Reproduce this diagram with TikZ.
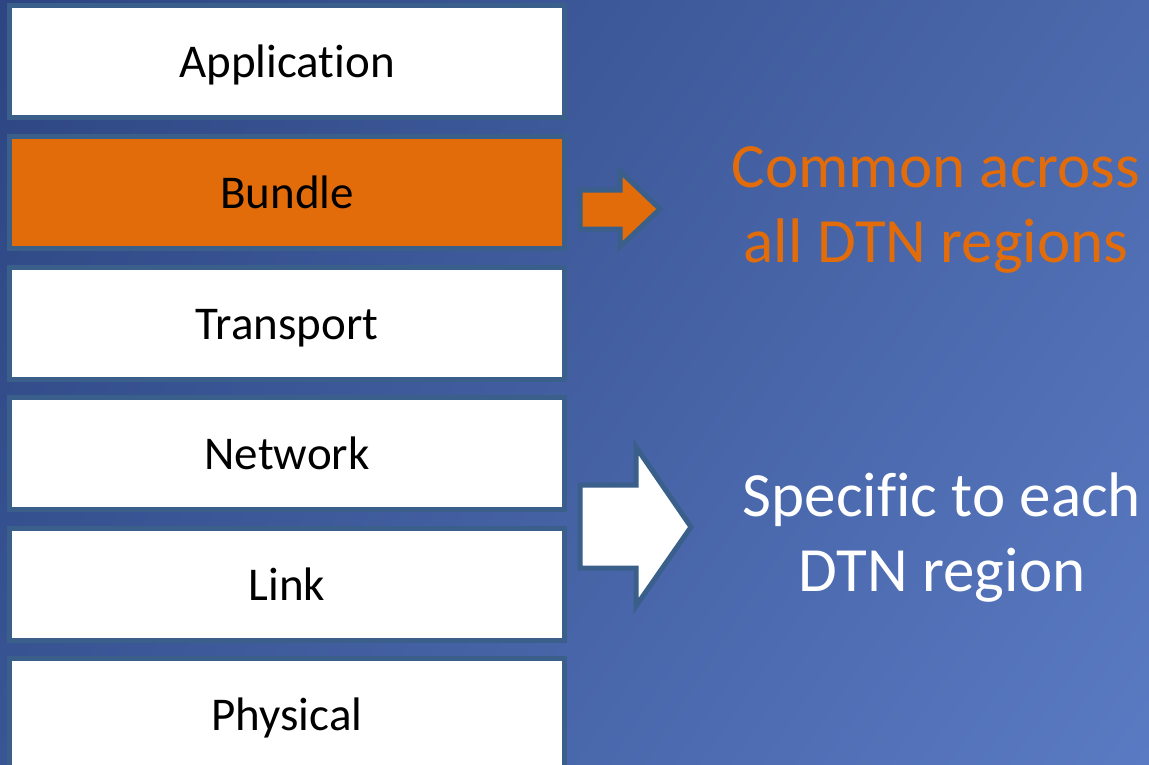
\documentclass[tikz,border=0pt]{standalone}
\usepackage{fontspec}
\setmainfont{Carlito}[Ligatures={NoCommon, NoContextual, NoRare}]
\usetikzlibrary{positioning, shadings}

\definecolor{bgtopleft}{HTML}{2D4582}
\definecolor{bgtopright}{HTML}{4B69AC}
\definecolor{bgbotleft}{HTML}{395594}
\definecolor{bgbotright}{HTML}{5A7AC3}
\definecolor{layerborder}{HTML}{3A5F8B}
\definecolor{bundleorange}{HTML}{E36C0A}

\begin{document}
\begin{tikzpicture}[
    x=1pt, y=-1pt,
    layer/.style={rectangle, draw=layerborder, line width=5pt, fill=white,
                  minimum width=555pt, minimum height=112pt,
                  text height=36pt, text depth=4pt,
                  font=\fontsize{47}{56}\selectfont},
    blockarrow/.style={draw=layerborder, line width=5pt, line join=miter},
    note/.style={align=center, font=\fontsize{63}{75}\selectfont}
]

    % Background
    \useasboundingbox (0, 0) rectangle (1149, 765);
    \shade[upper left=bgtopleft, upper right=bgtopright,
           lower left=bgbotleft, lower right=bgbotright] (0, 0) rectangle (1149, 765);

    % Protocol layers
    \node[layer] (application) at (287, 61.5) {Application};
    \node[layer, fill=bundleorange] (bundle) at (287, 192.5) {Bundle};
    \node[layer] (transport) at (287, 323) {Transport};
    \node[layer] (network) at (287, 453.5) {Network};
    \node[layer] (link) at (287, 584) {Link};
    \node[layer] (physical) at (287, 714.5) {Physical};

    % Block arrows
    \draw[blockarrow, fill=bundleorange] (580, 190) -- (620, 190) -- (620, 171)
        -- (660, 209) -- (620, 247) -- (620, 229) -- (580, 229) -- cycle;
    \draw[blockarrow, fill=white] (580, 485) -- (636, 485) -- (636, 447)
        -- (691, 527) -- (636, 606) -- (636, 568) -- (580, 568) -- cycle;

    % Notes
    \node[note, text=bundleorange] (common) at (936, 210) {Common across\\all DTN regions};
    \node[note, text=white] (specific) at (942, 538) {Specific to each\\DTN region};

\end{tikzpicture}
\end{document}
